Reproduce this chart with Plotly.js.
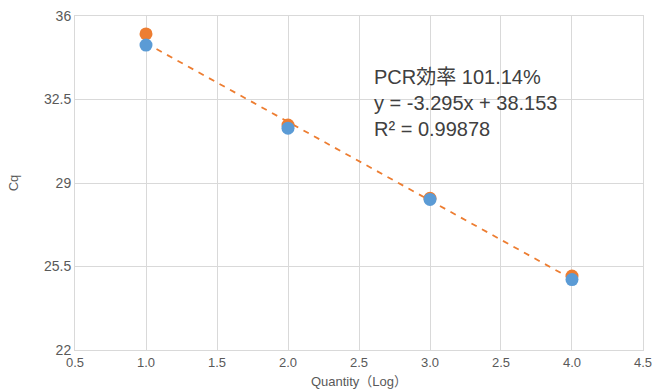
<!DOCTYPE html>
<html><head><meta charset="utf-8">
<script src="https://cdn.plot.ly/plotly-3.0.1.min.js"></script>
<style>html,body{margin:0;padding:0;background:#fff}#c{width:652px;height:392px}</style>
</head><body><div id="c"></div>
<script>
const quantityLog = [1.0, 2.0, 3.0, 4.0];
const cqSeriesA = [35.25, 31.43, 28.36, 25.10];
const cqSeriesB = [34.78, 31.30, 28.31, 24.95];
const trendX = [1.0, 4.0];
const trendY = [34.858, 24.973];
const xTickVals = [0.5, 1.0, 1.5, 2.0, 2.5, 3.0, 3.5, 4.0, 4.5];
const xTickText = ["0.5", "1.0", "1.5", "2.0", "2.5", "3.0", "2.5", "4.0", "4.5"];
const yTickVals = [22, 25.5, 29, 32.5, 36];
const yTickText = ["22", "25.5", "29", "32.5", "36"];
const annotationLines = ["PCR効率 101.14%", "y = -3.295x + 38.153", "R² = 0.99878"];

const fontFam = '"Liberation Sans", Arial, "Noto Sans CJK JP", sans-serif';
const traces = [
  {x: trendX, y: trendY, mode: 'lines', line: {color: '#ED7D31', width: 1.8, dash: '6px,6px'}, hoverinfo: 'skip'},
  {x: quantityLog, y: cqSeriesA, mode: 'markers', marker: {color: '#ED7D31', size: 13}},
  {x: quantityLog, y: cqSeriesB, mode: 'markers', marker: {color: '#5B9BD5', size: 13}}
];
const layout = {
  width: 652, height: 392,
  margin: {l: 75, r: 9, t: 16, b: 42},
  showlegend: false,
  paper_bgcolor: '#fff', plot_bgcolor: '#fff',
  font: {family: fontFam, color: '#595959', size: 13},
  xaxis: {range: [0.4999, 4.5001], tickvals: xTickVals, ticktext: xTickText,
    showgrid: true, gridcolor: '#d9d9d9', gridwidth: 1, zeroline: false,
    showline: true, mirror: true, linecolor: '#d9d9d9', ticks: '', ticklen: 0,
    ticklabeloverflow: 'allow', automargin: false,
    tickfont: {size: 13, color: '#595959'},
    title: {text: 'Quantity（Log）', font: {size: 13, color: '#595959'}, standoff: 8}},
  yaxis: {range: [22, 36], tickvals: yTickVals, ticktext: yTickText,
    showgrid: true, gridcolor: '#d9d9d9', gridwidth: 1, zeroline: false,
    showline: true, mirror: true, linecolor: '#d9d9d9', ticks: '', automargin: false,
    tickfont: {size: 14, color: '#595959'},
    title: {text: 'Cq', font: {size: 13, color: '#595959'}, standoff: 22}},
  annotations: [{
    xref: 'paper', yref: 'paper', x: (372-75)/568, y: 1 - (64-16)/334,
    xanchor: 'left', yanchor: 'top', align: 'left', showarrow: false,
    text: annotationLines.join('<br>'),
    font: {size: 20, color: '#404040', family: fontFam}
  }]
};
Plotly.newPlot('c', traces, layout, {displayModeBar: false, staticPlot: true});
</script></body></html>
